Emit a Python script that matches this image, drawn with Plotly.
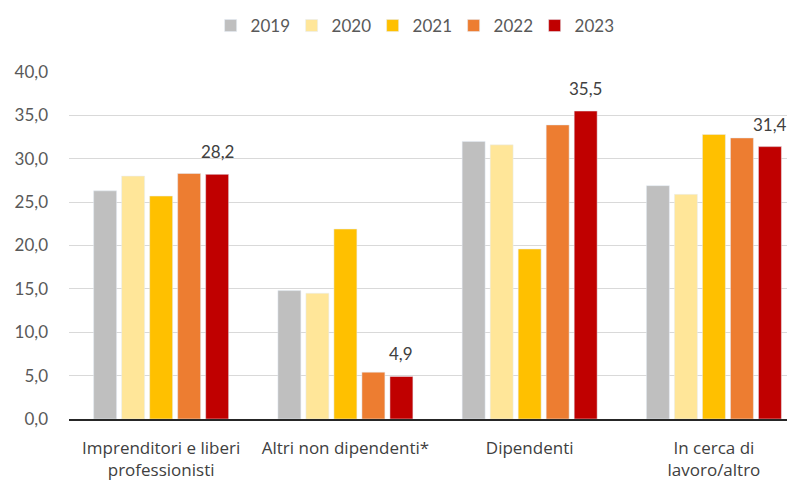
import plotly.graph_objects as go

categories = ["Imprenditori e liberi<br>professionisti", "Altri non dipendenti*", "Dipendenti", "In cerca di<br>lavoro/altro"]
years = ["2019", "2020", "2021", "2022", "2023"]
v2019 = [26.3, 14.8, 32.0, 26.9]
v2020 = [28.0, 14.5, 31.6, 25.9]
v2021 = [25.7, 21.9, 19.6, 32.8]
v2022 = [28.3, 5.4, 33.9, 32.4]
v2023 = [28.2, 4.9, 35.5, 31.4]
series = [v2019, v2020, v2021, v2022, v2023]
colors = ["#BFBFBF", "#FFE699", "#FFC000", "#ED7D31", "#C00000"]

FONT = "Lato, Open Sans, sans-serif"

fig = go.Figure()
for y, vals, c in zip(years, series, colors):
    fig.add_trace(go.Bar(x=categories, y=vals, name=y, marker_color=c))

# data labels for the last series (2023)
for cat, v in zip(categories, v2023):
    fig.add_annotation(x=cat, y=v, text=f"{v:.1f}".replace(".", ","),
                       showarrow=False, xshift=56, yshift=10, yanchor="bottom",
                       font=dict(size=17, color="#404040", family=FONT))

fig.update_layout(
    width=795, height=481,
    barmode="group", bargap=0.24, bargroupgap=0.18,
    plot_bgcolor="white", paper_bgcolor="white",
    margin=dict(l=61, r=8, t=64, b=70),
    separators=",.",
    font=dict(family=FONT, size=17, color="#595959"),
    legend=dict(orientation="h", x=0.474, xanchor="center", y=1.0, yanchor="top",
                yref="container", font=dict(size=17, color="#595959"),
                itemwidth=30, entrywidth=36, entrywidthmode="pixels",
                traceorder="normal"),
    xaxis=dict(range=[-0.5, 3.44], showline=True, linecolor="#262626", linewidth=1.5,
               ticks="", automargin=False, ticklabelstandoff=13,
               tickfont=dict(size=17, color="#404040", family="Open Sans, sans-serif")),
    yaxis=dict(range=[0, 40], dtick=5, tickformat=".1f", showgrid=True,
               gridcolor="#D9D9D9", gridwidth=1.3, zeroline=False, automargin=False,
               ticks="", ticklabelstandoff=20, tickfont=dict(size=17, color="#595959")),
)
fig.write_html("out.html")
